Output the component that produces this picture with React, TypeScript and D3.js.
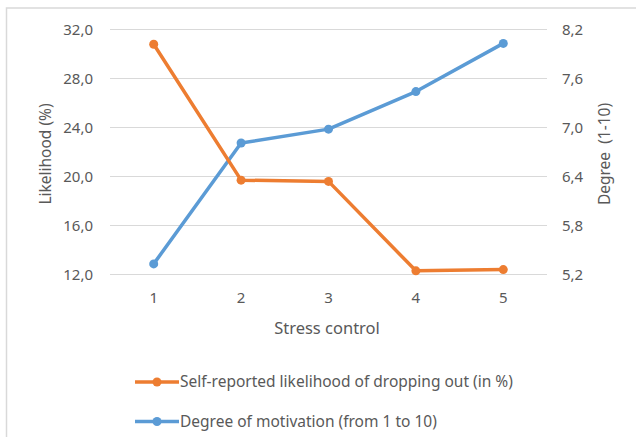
import React from "react";
import * as d3 from "d3";

const categories = ["1", "2", "3", "4", "5"];
const likelihood = [30.8, 19.7, 19.6, 12.3, 12.4];
const motivation = [5.33, 6.81, 6.98, 7.44, 8.03];
const leftTicks = [12, 16, 20, 24, 28, 32];
const rightTicks = [5.2, 5.8, 6.4, 7.0, 7.6, 8.2];
const seriesNames = [
  "Self-reported likelihood of dropping out (in %)",
  "Degree of motivation (from 1 to 10)",
];

const W = 636;
const H = 437;
const FONT = "'Noto Sans', 'Open Sans', sans-serif";
const TEXT = "#595959";
const ORANGE = "#ED7D31";
const BLUE = "#5B9BD5";

export default function App() {
  const x = d3.scaleBand<string>().domain(categories).range([110, 547]);
  const yL = d3.scaleLinear().domain([12, 32]).range([274.5, 29.5]);
  const yR = d3.scaleLinear().domain([5.2, 8.2]).range([274.5, 29.5]);
  const cx = (c: string) => (x(c) as number) + x.bandwidth() / 2;
  const fmt = (v: number) => v.toFixed(1).replace(".", ",");

  const lineL = d3
    .line<number>()
    .x((_, i) => cx(categories[i]))
    .y((d) => yL(d));
  const lineR = d3
    .line<number>()
    .x((_, i) => cx(categories[i]))
    .y((d) => yR(d));

  const legendY = [382, 421.5];
  const legendColors = [ORANGE, BLUE];

  return (
    <svg
      width={W}
      height={H}
      style={{ position: "absolute", left: 0, top: 0 }}
      fontFamily={FONT}
    >
      <rect x={0} y={0} width={W} height={H} fill="#fff" />
      <rect
        x={6.5}
        y={8}
        width={W + 10}
        height={H + 10}
        fill="#fff"
        stroke="#d9d9d9"
        strokeWidth={1.5}
      />
      {leftTicks.map((t) => (
        <line
          key={"g" + t}
          x1={110}
          x2={547}
          y1={yL(t)}
          y2={yL(t)}
          stroke="#d9d9d9"
          strokeWidth={1.2}
        />
      ))}
      {leftTicks.map((t) => (
        <text
          key={"l" + t}
          x={93}
          y={yL(t)}
          dy="0.35em"
          textAnchor="end"
          fontSize={15}
          fill={TEXT}
        >
          {fmt(t)}
        </text>
      ))}
      {rightTicks.map((t) => (
        <text
          key={"r" + t}
          x={562}
          y={yR(t)}
          dy="0.35em"
          textAnchor="start"
          fontSize={15}
          fill={TEXT}
        >
          {fmt(t)}
        </text>
      ))}
      {categories.map((c) => (
        <text
          key={"x" + c}
          x={cx(c)}
          y={298}
          dy="0.35em"
          textAnchor="middle"
          fontSize={15}
          fill={TEXT}
        >
          {c}
        </text>
      ))}
      <text
        x={327}
        y={328}
        dy="0.35em"
        textAnchor="middle"
        fontSize={16.5}
        fill={TEXT}
      >
        Stress control
      </text>
      <text
        transform={`translate(46,154) rotate(-90)`}
        dy="0.35em"
        textAnchor="middle"
        fontSize={15.5}
        fill={TEXT}
      >
        Likelihood (%)
      </text>
      <text
        transform={`translate(605,154) rotate(-90)`}
        dy="0.35em"
        textAnchor="middle"
        fontSize={15.5}
        fill={TEXT}
        style={{ whiteSpace: "pre" }}
      >
        {"Degree  (1-10)"}
      </text>

      <path
        d={lineR(motivation) || ""}
        fill="none"
        stroke={BLUE}
        strokeWidth={3.5}
        strokeLinejoin="round"
      />
      {motivation.map((v, i) => (
        <circle
          key={"mb" + i}
          cx={cx(categories[i])}
          cy={yR(v)}
          r={4.5}
          fill={BLUE}
        />
      ))}
      <path
        d={lineL(likelihood) || ""}
        fill="none"
        stroke={ORANGE}
        strokeWidth={3.5}
        strokeLinejoin="round"
      />
      {likelihood.map((v, i) => (
        <circle
          key={"mo" + i}
          cx={cx(categories[i])}
          cy={yL(v)}
          r={4.5}
          fill={ORANGE}
        />
      ))}

      {seriesNames.map((n, i) => (
        <g key={"lg" + i}>
          <line
            x1={135}
            x2={179}
            y1={legendY[i]}
            y2={legendY[i]}
            stroke={legendColors[i]}
            strokeWidth={3.5}
          />
          <circle cx={157} cy={legendY[i]} r={4.5} fill={legendColors[i]} />
          <text
            x={180}
            y={legendY[i]}
            dy="0.35em"
            fontSize={15.5}
            fill={TEXT}
          >
            {n}
          </text>
        </g>
      ))}
    </svg>
  );
}
